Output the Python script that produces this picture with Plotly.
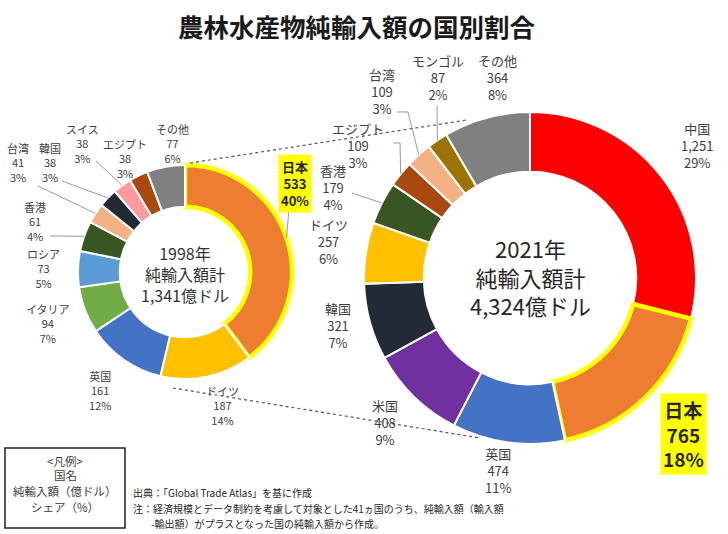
import math
import plotly.graph_objects as go

W, H = 728, 534
FONT = "Noto Sans CJK JP"
TXT = "#404040"

# 1998
countries_1998 = ["日本", "ドイツ", "英国", "イタリア", "ロシア", "香港", "台湾", "韓国", "スイス", "エジプト", "その他"]
values_1998 = [533, 187, 161, 94, 73, 61, 41, 38, 38, 38, 77]
shares_1998 = [40, 14, 12, 7, 5, 4, 3, 3, 3, 3, 6]
colors_1998 = ["#ED7D31", "#FFC000", "#4472C4", "#70AD47", "#5B9BD5", "#375623",
               "#F4B183", "#222A35", "#FF99A0", "#A9490F", "#808080"]

# 2021
countries_2021 = ["中国", "日本", "英国", "米国", "韓国", "ドイツ", "香港", "エジプト", "台湾", "モンゴル", "その他"]
values_2021 = [1251, 765, 474, 408, 321, 257, 179, 109, 109, 87, 364]
shares_2021 = [29, 18, 11, 9, 7, 6, 4, 3, 3, 2, 8]
colors_2021 = ["#FF0000", "#ED7D31", "#4472C4", "#7030A0", "#222A35", "#FFC000",
               "#375623", "#A9490F", "#F4B183", "#9A7300", "#808080"]

total_1998 = "1,341"
total_2021 = "4,324"


def px(x, y):
    return x / W, 1 - y / H


def slice_point(values, i, cx, cy, r):
    # mid angle of slice i, clockwise from 12 o'clock
    tot = sum(values)
    mid = sum(values[:i]) + values[i] / 2
    th = 2 * math.pi * mid / tot
    return cx + r * math.sin(th), cy - r * math.cos(th)


# donut geometry in pixels
L_CX, L_CY, L_R = 185, 272, 107
R_CX, R_CY, R_R = 530, 278, 166


def domain(cx, cy, r):
    return dict(x=[(cx - r) / W, (cx + r) / W], y=[1 - (cy + r) / H, 1 - (cy - r) / H])


def pie(names, values, colors, cx, cy, r, hole):
    line_c = ["#FFFF00" if n == "日本" else "white" for n in names]
    line_w = [4.5 if n == "日本" else 2 for n in names]
    return go.Pie(labels=names, values=values, sort=False, direction="clockwise",
                  rotation=0, hole=hole, domain=domain(cx, cy, r),
                  marker=dict(colors=colors, line=dict(color=line_c, width=line_w)),
                  textinfo="none", hoverinfo="skip", showlegend=False)


fig = go.Figure()
fig.add_trace(pie(countries_1998, values_1998, colors_1998, L_CX, L_CY, L_R, 0.61))
fig.add_trace(pie(countries_2021, values_2021, colors_2021, R_CX, R_CY, R_R, 0.64))

annotations = []
shapes = []


def add_text(x, y, text, size, color=TXT, bold=False, xanchor="center", bg=None):
    ax, ay = px(x, y)
    if bold:
        text = "<b>" + text + "</b>"
    annotations.append(dict(x=ax, y=ay, xref="paper", yref="paper", text=text,
                            showarrow=False, xanchor=xanchor, yanchor="middle",
                            font=dict(family=FONT, size=size, color=color),
                            bgcolor=bg, borderpad=2))


def add_leader(points):
    path = "M " + " L ".join("{:.4f},{:.4f}".format(*px(x, y)) for x, y in points)
    shapes.append(dict(type="path", path=path, xref="paper", yref="paper",
                       line=dict(color="#9A9A9A", width=1)))


# label placement (pixels) and leader starts
pos_1998 = {"日本": (295, 184), "ドイツ": (222, 405), "英国": (100, 390), "イタリア": (48, 323),
            "ロシア": (43, 268), "香港": (35, 221), "台湾": (18, 163), "韓国": (50, 163),
            "スイス": (82, 143), "エジプト": (125, 158), "その他": (172, 143)}
lead_1998 = {"日本": [(289, 209)], "香港": [(50, 236)], "台湾": [(38, 186)],
             "韓国": [(62, 181)], "スイス": [(96, 161)]}

pos_2021 = {"中国": (697, 145), "日本": (683, 434), "英国": (498, 470), "米国": (385, 422),
            "韓国": (338, 325), "ドイツ": (328, 241), "香港": (333, 187), "エジプト": (358, 145),
            "台湾": (382, 92), "モンゴル": (438, 77), "その他": (497, 77)}
lead_2021 = {"香港": [(352, 193)], "エジプト": [(393, 143), (400, 143)],
             "台湾": [(397, 112), (408, 112)], "モンゴル": [(437, 106)]}

for i, n in enumerate(countries_1998):
    x, y = pos_1998[n]
    t = "{}<br>{:,}<br>{}%".format(n, values_1998[i], shares_1998[i])
    if n == "日本":
        add_text(x, y, t, 13, color="#262626", bold=True, bg="#FFFF00")
    else:
        add_text(x, y, t, 11)
    if n in lead_1998:
        add_leader(lead_1998[n] + [slice_point(values_1998, i, L_CX, L_CY, L_R)])

for i, n in enumerate(countries_2021):
    x, y = pos_2021[n]
    t = "{}<br>{:,}<br>{}%".format(n, values_2021[i], shares_2021[i])
    if n == "日本":
        add_text(x, y, t, 19, color="#262626", bold=True, bg="#FFFF00")
    else:
        add_text(x, y, t, 13)
    if n in lead_2021:
        add_leader(lead_2021[n] + [slice_point(values_2021, i, R_CX, R_CY, R_R)])

# center texts
add_text(L_CX, 274, "1998年<br>純輸入額計<br>{}億ドル".format(total_1998), 16, color="#333333")
add_text(R_CX, 276, "2021年<br>純輸入額計<br>{}億ドル".format(total_2021), 22, color="#262626")

# title
add_text(357, 25, "農林水産物純輸入額の国別割合", 25.5, color="#1A1A1A", bold=True)

# legend box
shapes.append(dict(type="rect", xref="paper", yref="paper",
                   x0=px(5, 0)[0], x1=px(125, 0)[0], y0=px(0, 528)[1], y1=px(0, 448)[1],
                   line=dict(color="#222222", width=1.5)))
add_text(65, 461, "<凡例>", 11.5)
add_text(65, 475, "国名", 11.5)
add_text(65, 491, "純輸入額（億ドル）", 11.5)
add_text(65, 507, "シェア（%）", 11.5)

# notes
add_text(130, 492, "出典：「Global Trade Atlas」を基に作成", 10, color="#262626", xanchor="left")
add_text(130, 508, "注：経済規模とデータ制約を考慮して対象とした41ヵ国のうち、純輸入額（輸入額",
         10, color="#262626", xanchor="left")
add_text(148, 523, "-輸出額）がプラスとなった国の純輸入額から作成。", 10, color="#262626", xanchor="left")

# dotted connectors between the two donuts
for a, b in [((190, 163), (467, 120)), ((173, 388), (480, 438))]:
    (x0, y0), (x1, y1) = px(*a), px(*b)
    shapes.append(dict(type="line", xref="paper", yref="paper", x0=x0, y0=y0, x1=x1, y1=y1,
                       line=dict(color="#555555", width=1.2, dash="dot")))

fig.update_layout(width=W, height=H, margin=dict(l=0, r=0, t=0, b=0),
                  paper_bgcolor="white", plot_bgcolor="white",
                  annotations=annotations, shapes=shapes,
                  font=dict(family=FONT, color=TXT))

# page body has a default 8px margin; drop it so the figure sits at the window corner
fig.write_html("out.html", config={"displayModeBar": False},
               post_script="document.body.style.margin='0';")
